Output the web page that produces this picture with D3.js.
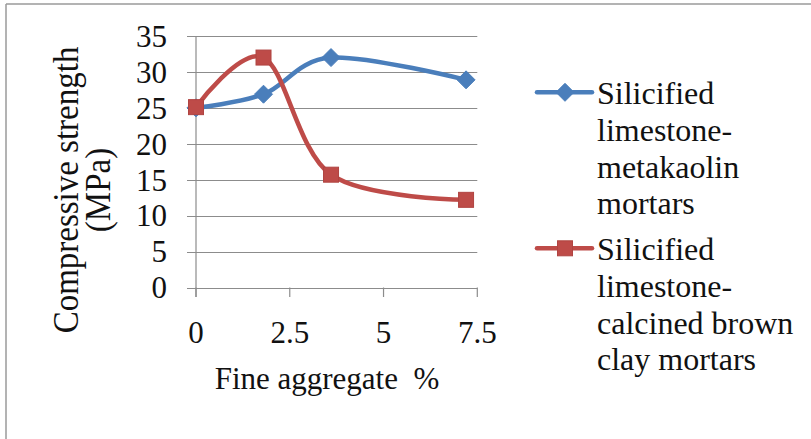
<!DOCTYPE html>
<html><head><meta charset="utf-8">
<script src="https://cdn.jsdelivr.net/npm/d3@7"></script>
<style>html,body{margin:0;padding:0;background:#fff;overflow:hidden}</style>
</head><body>
<script>
const xValues = [0, 1.8, 3.6, 7.2];
const seriesNames = ["Silicified limestone-metakaolin mortars", "Silicified limestone-calcined brown clay mortars"];
const metakaolin = [25, 26.9, 32, 28.9];
const brownClay = [25.1, 32, 15.7, 12.2];
const xTicks = [0, 2.5, 5, 7.5];
const yTicks = [0, 5, 10, 15, 20, 25, 30, 35];
const legendLines = [["Silicified", "limestone-", "metakaolin", "mortars"], ["Silicified", "limestone-", "calcined brown", "clay mortars"]];
const xTitle = "Fine aggregate  %";
const yTitle = ["Compressive strength", "(MPa)"];

const W = 811, H = 439;
const svg = d3.select("body").append("svg").attr("width", W).attr("height", H);
const font = "'Liberation Serif', 'Times New Roman', serif";

// frame of the source picture
svg.append("line").attr("x1", 6).attr("x2", W).attr("y1", 4).attr("y2", 4).attr("stroke", "#9a9a9a").attr("stroke-width", 1.5);
svg.append("line").attr("x1", 6).attr("x2", 6).attr("y1", 4).attr("y2", H).attr("stroke", "#9a9a9a").attr("stroke-width", 1.5);

const x = d3.scaleLinear().domain([0, 7.5]).range([196, 477.3]);
const y = d3.scaleLinear().domain([0, 35]).range([287.5, 36]);

const grid = "#8c8c8c";
svg.append("g").selectAll("line").data(yTicks).join("line")
  .attr("x1", 187).attr("x2", x(7.5))
  .attr("y1", d => Math.round(y(d)) + 0.5).attr("y2", d => Math.round(y(d)) + 0.5)
  .attr("stroke", grid).attr("stroke-width", 1.2);
svg.append("line").attr("x1", x(0)).attr("x2", x(0)).attr("y1", y(35)).attr("y2", 297)
  .attr("stroke", grid).attr("stroke-width", 1.2);
svg.append("g").selectAll("line").data(xTicks).join("line")
  .attr("x1", d => x(d)).attr("x2", d => x(d)).attr("y1", y(0)).attr("y2", 297)
  .attr("stroke", grid).attr("stroke-width", 1.2);

svg.append("g").selectAll("text").data(yTicks).join("text")
  .attr("x", 167).attr("y", d => y(d)).attr("dy", "0.35em")
  .attr("text-anchor", "end").attr("font-family", font).attr("font-size", 31).attr("fill", "#111")
  .text(d => d);
svg.append("g").selectAll("text").data(xTicks).join("text")
  .attr("x", d => x(d)).attr("y", 343)
  .attr("text-anchor", "middle").attr("font-family", font).attr("font-size", 31).attr("fill", "#111")
  .text(d => d);

svg.append("text").attr("x", 327).attr("y", 389).attr("text-anchor", "middle")
  .attr("font-family", font).attr("font-size", 31).attr("fill", "#111").style("white-space", "pre").text(xTitle);
const yt = svg.append("g").attr("transform", "translate(78,190) rotate(-90) scale(1,1.1)");
yTitle.forEach((t, i) => {
  yt.append("text").attr("x", 0).attr("y", i * 29).attr("text-anchor", "middle")
    .attr("font-family", font).attr("font-size", 33).attr("fill", "#111").text(t);
});

const colors = ["#4a7ebb", "#be4b48"];
const data = [metakaolin, brownClay];
const line = d3.line().x((d, i) => x(xValues[i])).y(d => y(d)).curve(d3.curveCardinal.tension(0));

data.forEach((vals, s) => {
  svg.append("path").datum(vals).attr("d", line).attr("fill", "none")
    .attr("stroke", colors[s]).attr("stroke-width", 4.5).attr("stroke-linejoin", "round").attr("stroke-linecap", "round");
});

function marker(g, s, cx, cy) {
  if (s === 0) {
    g.append("path").attr("d", `M${cx},${cy - 9}L${cx + 9},${cy}L${cx},${cy + 9}L${cx - 9},${cy}Z`)
      .attr("fill", colors[0]).attr("stroke", colors[0]).attr("stroke-width", 1);
  } else {
    g.append("rect").attr("x", cx - 7.5).attr("y", cy - 7.5).attr("width", 15).attr("height", 15)
      .attr("fill", colors[1]).attr("stroke", "#b04441").attr("stroke-width", 1);
  }
}
data.forEach((vals, s) => {
  const g = svg.append("g");
  vals.forEach((v, i) => marker(g, s, x(xValues[i]), y(v)));
});

const legendY = [92.3, 248.3];
legendLines.forEach((lines, s) => {
  const g = svg.append("g");
  g.append("line").attr("x1", 537).attr("x2", 592).attr("y1", legendY[s]).attr("y2", legendY[s])
    .attr("stroke", colors[s]).attr("stroke-width", 4.5).attr("stroke-linecap", "round");
  marker(g, s, 565, legendY[s]);
  lines.forEach((t, i) => {
    g.append("text").attr("x", 597).attr("y", legendY[s] + 12 + i * 36.7)
      .attr("font-family", font).attr("font-size", 32).attr("fill", "#111").text(t);
  });
});
</script>
</body></html>
